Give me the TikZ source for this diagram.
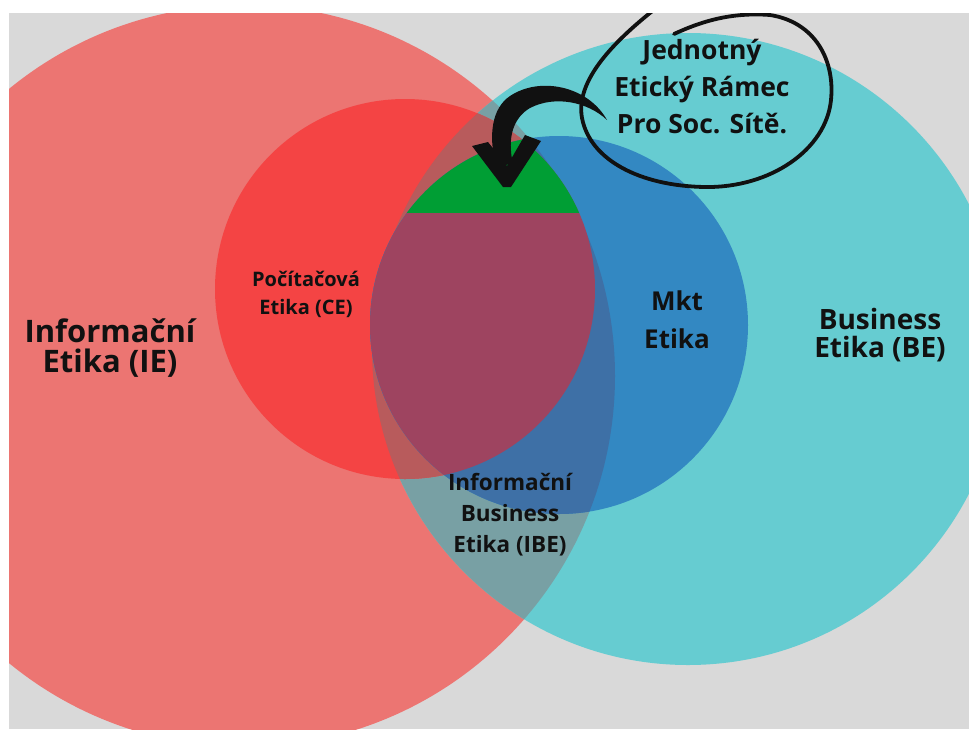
\documentclass[tikz,border=0pt]{standalone}
\usepackage{fontspec}
\setmainfont{Open Sans}
\definecolor{bgc}{HTML}{D9D9D9}
\definecolor{iec}{HTML}{EC7572}
\definecolor{bec}{HTML}{66CCD1}
\definecolor{ibec}{HTML}{78A0A4}
\definecolor{cec}{HTML}{F44444}
\definecolor{cebec}{HTML}{B85B5C}
\definecolor{mktc}{HTML}{3388C2}
\definecolor{mktiec}{HTML}{3E70A6}
\definecolor{mauvec}{HTML}{9E4460}
\definecolor{greenc}{HTML}{009E34}
\definecolor{inkc}{HTML}{111111}
\begin{document}
\begin{tikzpicture}[x=1pt,y=-1pt,
  lbl/.style={align=center,text=inkc,inner sep=0pt},
  ink/.style={fill=inkc,draw=inkc}]
\useasboundingbox (0,0) rectangle (969,729);
\fill[white] (0,0) rectangle (969,729);
\begin{scope}
\clip (9,13) rectangle (969,729);
\fill[bgc] (9,13) rectangle (969,729);
% circles
\fill[iec] (244,376) circle[radius=371pt];
\fill[bec] (688,349) circle[radius=316pt];
\begin{scope}
  \clip (244,376) circle[radius=371pt];
  \fill[ibec] (688,349) circle[radius=316pt];
\end{scope}
\fill[cec] (405,289) circle[radius=190pt];
\begin{scope}
  \clip (405,289) circle[radius=190pt];
  \fill[cebec] (688,349) circle[radius=316pt];
\end{scope}
\fill[mktc] (559,325) circle[radius=189pt];
\begin{scope}
  \clip (559,325) circle[radius=189pt];
  \fill[mktiec] (244,376) circle[radius=371pt];
  \fill[mauvec] (405,289) circle[radius=190pt];
  \clip (405,289) circle[radius=190pt];
  \fill[greenc] (300,100) rectangle (700,213);
\end{scope}
% hand drawn loop
\draw[inkc,line width=3.8pt,line cap=round]
  (674,34) .. controls (700,22) and (730,12) .. (770,15)
  .. controls (815,22) and (835,60) .. (831,100)
  .. controls (826,150) and (770,188) .. (705,187)
  .. controls (640,186) and (590,160) .. (582,118)
  .. controls (575,80) and (615,40) .. (660,5);
% arrow
\fill[inkc] (607,120) .. controls (588,86) and (540,76) .. (510,96)
  .. controls (492,108) and (488,135) .. (496,166)
  -- (513,164) .. controls (507,138) and (513,118) .. (530,108)
  .. controls (555,95) and (588,102) .. (607,120) -- cycle;
\fill[inkc] (472,146) -- (488,142) -- (507,166) -- (525,135) -- (541,141)
  -- (511,187) -- (503,187) -- cycle;
\end{scope}
% labels
\node[lbl,font=\bfseries\fontsize{31}{30}\selectfont] (ie) at (110,348) {Informační\\Etika (IE)};
\node[lbl,font=\bfseries\fontsize{20}{28}\selectfont] (ce) at (306,294) {Počítačová\\Etika (CE)};
\node[lbl,font=\bfseries\fontsize{26}{38}\selectfont] (mkt) at (677,320) {Mkt\\Etika};
\node[lbl,font=\bfseries\fontsize{28}{28}\selectfont] (be) at (880,335) {Business\\Etika (BE)};
\node[lbl,font=\bfseries\fontsize{22.5}{31}\selectfont] (ibe) at (510,515) {Informační\\Business\\Etika (IBE)};
\node[lbl,font=\bfseries\fontsize{26.5}{37}\selectfont] (ejr) at (702,87) {Jednotný\\Etický Rámec\\Pro Soc. Sítě.};
\end{tikzpicture}
\end{document}
